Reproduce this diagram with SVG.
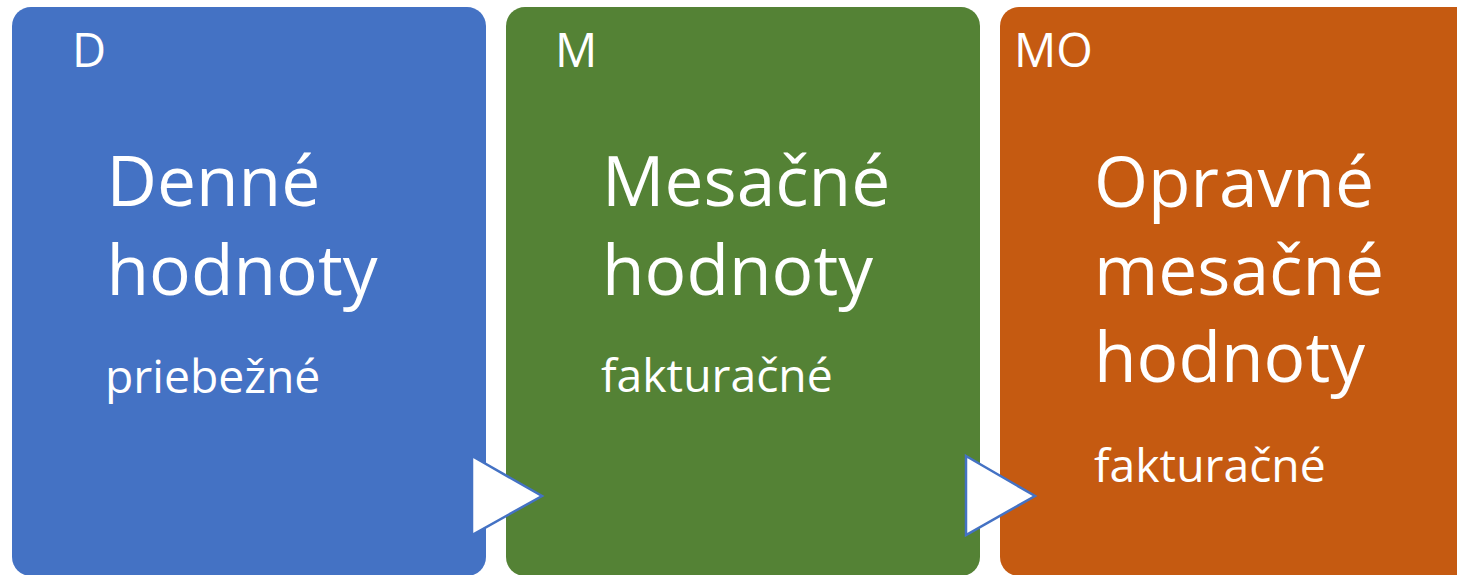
<svg xmlns="http://www.w3.org/2000/svg" width="1457" height="575" viewBox="0 0 1457 575">
  <style>
    .box { stroke: none; }
    .t { fill: #FFFFFF; font-family: "Open Sans", "Noto Sans", "Liberation Sans", sans-serif; }
    .lbl { font-size: 47px; }
    .big { font-size: 69.5px; }
    .small { font-size: 46.3px; }
    .arrow { fill: #FFFFFF; stroke: #4472C4; stroke-width: 2.5; stroke-linejoin: miter; }
  </style>
  <rect width="1457" height="575" fill="#FFFFFF"/>
  <g id="node-d">
    <rect class="box" x="12" y="7" width="474" height="569" rx="19" ry="19" fill="#4472C4"/>
    <text class="t lbl" x="72" y="67">D</text>
    <text class="t big" x="106.5" y="206">Denné</text>
    <text class="t big" x="106.5" y="295">hodnoty</text>
    <text class="t small" x="105" y="393">priebežné</text>
  </g>
  <g id="node-m">
    <rect class="box" x="506" y="7" width="474" height="569" rx="19" ry="19" fill="#548235"/>
    <text class="t lbl" x="555" y="67">M</text>
    <text class="t big" x="602" y="206">Mesačné</text>
    <text class="t big" x="602" y="295">hodnoty</text>
    <text class="t small" x="601" y="392">fakturačné</text>
  </g>
  <g id="node-mo">
    <rect class="box" x="1000" y="7" width="474" height="569" rx="19" ry="19" fill="#C55A11"/>
    <text class="t lbl" x="1014" y="67">MO</text>
    <text class="t big" x="1094" y="207">Opravné</text>
    <text class="t big" x="1094" y="295">mesačné</text>
    <text class="t big" x="1094" y="382">hodnoty</text>
    <text class="t small" x="1094" y="482">fakturačné</text>
  </g>
  <g id="connectors">
    <polygon class="arrow" points="472,456 542,496 472,535"/>
    <polygon class="arrow" points="966,456 1035,496 966,535"/>
  </g>
</svg>
